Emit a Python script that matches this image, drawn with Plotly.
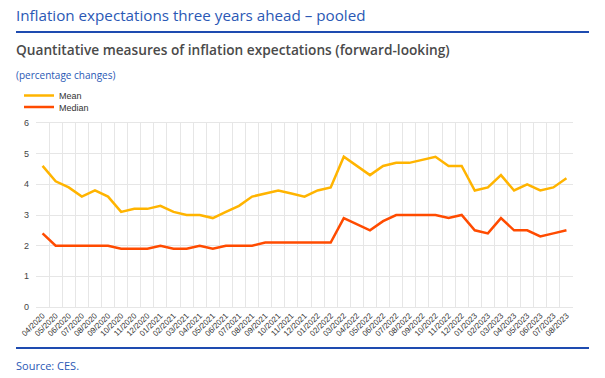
import plotly.graph_objects as go

months = ["04/2020", "05/2020", "06/2020", "07/2020", "08/2020", "09/2020", "10/2020", "11/2020", "12/2020",
          "01/2021", "02/2021", "03/2021", "04/2021", "05/2021", "06/2021", "07/2021", "08/2021", "09/2021",
          "10/2021", "11/2021", "12/2021", "01/2022", "02/2022", "03/2022", "04/2022", "05/2022", "06/2022",
          "07/2022", "08/2022", "09/2022", "10/2022", "11/2022", "12/2022", "01/2023", "02/2023", "03/2023",
          "04/2023", "05/2023", "06/2023", "07/2023", "08/2023"]

mean_vals = [4.6, 4.1, 3.9, 3.6, 3.8, 3.6, 3.1, 3.2, 3.2,
             3.3, 3.1, 3.0, 3.0, 2.9, 3.1, 3.3, 3.6, 3.7,
             3.8, 3.7, 3.6, 3.8, 3.9, 4.9, 4.6, 4.3, 4.6,
             4.7, 4.7, 4.8, 4.9, 4.6, 4.6, 3.8, 3.9, 4.3,
             3.8, 4.0, 3.8, 3.9, 4.2]

median_vals = [2.4, 2.0, 2.0, 2.0, 2.0, 2.0, 1.9, 1.9, 1.9,
               2.0, 1.9, 1.9, 2.0, 1.9, 2.0, 2.0, 2.0, 2.1,
               2.1, 2.1, 2.1, 2.1, 2.1, 2.9, 2.7, 2.5, 2.8,
               3.0, 3.0, 3.0, 3.0, 2.9, 3.0, 2.5, 2.4, 2.9,
               2.5, 2.5, 2.3, 2.4, 2.5]

y_ticks = [0, 1, 2, 3, 4, 5, 6]

W_FIG, H_FIG = 605, 378
L, R, T, B = 36, 32, 123, 71
PW = W_FIG - L - R
PH = H_FIG - T - B


def px(x):
    return (x - L) / PW


def py(y):
    return (H_FIG - B - y) / PH


BLUE = "#2a58b5"
fig = go.Figure()
fig.add_trace(go.Scatter(x=months, y=mean_vals, name="Mean", mode="lines", legend="legend",
                         line=dict(color="#ffb400", width=2.5)))
fig.add_trace(go.Scatter(x=months, y=median_vals, name="Median", mode="lines", legend="legend2",
                         line=dict(color="#ff4b00", width=2.5)))

leg_common = dict(xanchor="left", yanchor="top", font=dict(size=9, color="#333"),
                  bgcolor="rgba(0,0,0,0)", tracegroupgap=0, itemwidth=30)

fig.update_layout(
    width=W_FIG, height=H_FIG,
    margin=dict(l=L, r=R, t=T, b=B, pad=0),
    paper_bgcolor="white", plot_bgcolor="white",
    font=dict(family="Liberation Sans, Arial, sans-serif", color="#444"),
    showlegend=True,
    legend=dict(x=px(19), y=py(81), **leg_common),
    legend2=dict(x=px(19), y=py(92.5), **leg_common),
    xaxis=dict(type="category", tickson="boundaries", tickangle=-45, automargin=False,
               range=[-0.5, len(months) - 0.5],
               showgrid=True, gridcolor="#e6e6e6", gridwidth=1,
               ticks="", showline=True, linecolor="#e6e6e6", mirror=True,
               tickfont=dict(size=8, color="#333"), zeroline=False),
    yaxis=dict(range=[0, 6], tickvals=y_ticks, showgrid=True, gridcolor="#e6e6e6", automargin=False,
               gridwidth=1, zeroline=False, ticks="", ticklabelstandoff=6,
               tickfont=dict(size=9, color="#444"), showline=False),
)

fig.add_shape(type="line", xref="paper", yref="paper", x0=px(16), x1=px(589), y0=py(32), y1=py(32),
              line=dict(color="#1e4bb0", width=2))
fig.add_shape(type="line", xref="paper", yref="paper", x0=px(16), x1=px(589), y0=py(348), y1=py(348),
              line=dict(color="#1e4bb0", width=2))

fig.add_annotation(text="Inflation expectations three years ahead \u2013 pooled", xref="paper", yref="paper",
                   x=px(14), y=py(15), xanchor="left", yanchor="middle", showarrow=False,
                   font=dict(family="Open Sans", size=15.2, color=BLUE))
fig.add_annotation(text="Quantitative measures of inflation expectations (forward-looking)", xref="paper",
                   yref="paper", x=px(14), y=py(49), xanchor="left", yanchor="middle", showarrow=False,
                   font=dict(family="Open Sans", size=13.7, color="#4a4a4a", weight=600))
fig.add_annotation(text="(percentage changes)", xref="paper", yref="paper",
                   x=px(14), y=py(75), xanchor="left", yanchor="middle", showarrow=False,
                   font=dict(family="Open Sans", size=10, color=BLUE))
fig.add_annotation(text="Source: CES.", xref="paper", yref="paper",
                   x=px(14), y=py(365), xanchor="left", yanchor="middle", showarrow=False,
                   font=dict(family="Open Sans", size=11, color=BLUE))

fig.write_html("out.html", config={"displayModeBar": False},
               post_script="document.body.style.margin='0';")
